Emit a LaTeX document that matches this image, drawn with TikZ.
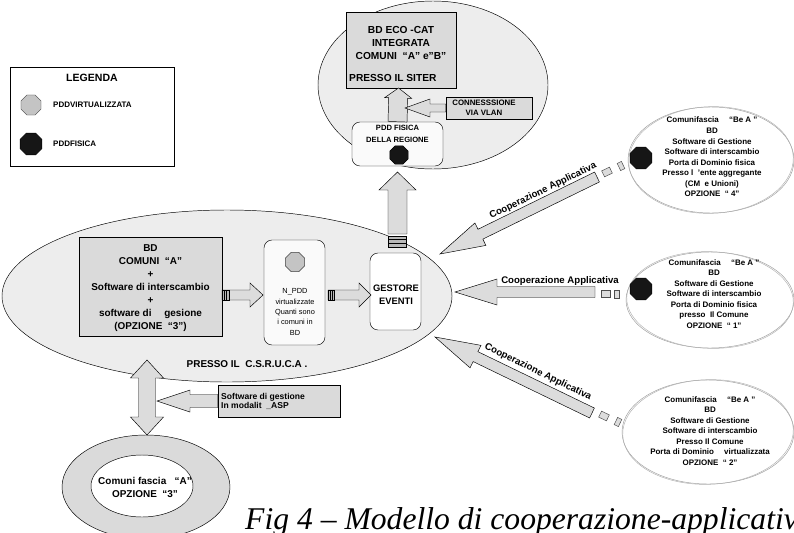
\documentclass[tikz,border=0pt]{standalone}
\usepackage{fontspec}
\setmainfont{Liberation Sans}
\newfontfamily\capfont{Liberation Serif}
\usepackage{tikz}
\usetikzlibrary{calc,positioning,shapes.geometric}

\definecolor{ellgray}{HTML}{EDEDED}
\definecolor{boxgray}{HTML}{DADADA}
\definecolor{arrgray}{HTML}{DCDCDC}
\definecolor{octgray}{HTML}{C4C4C4}
\definecolor{octblack}{HTML}{161616}

\def\pxu{0.03cm}
% block arrow: [style]{from}{to}{shaft half width}{head half width}{head length}
\newcommand{\blockarrow}[6][]{%
  \draw[barrow,#1] let \p1=($(#3)-(#2)$), \n1={atan2(\y1,\x1)}, \n2={veclen(\x1,\y1)} in
    ($(#2)+(\n1+90:#4*\pxu)$)
    -- ($(#2)+(\n1:\n2-#6*\pxu)+(\n1+90:#4*\pxu)$)
    -- ($(#2)+(\n1:\n2-#6*\pxu)+(\n1+90:#5*\pxu)$)
    -- (#3)
    -- ($(#2)+(\n1:\n2-#6*\pxu)+(\n1-90:#5*\pxu)$)
    -- ($(#2)+(\n1:\n2-#6*\pxu)+(\n1-90:#4*\pxu)$)
    -- ($(#2)+(\n1-90:#4*\pxu)$) -- cycle;}

\begin{document}
\begin{tikzpicture}[x=0.03cm,y=-0.03cm,
  box/.style={draw,fill=boxgray,inner sep=0pt},
  rbox/.style={draw,rounded corners=0.24cm,fill=gray!4,inner sep=0pt},
  ell/.style={ellipse,draw,fill=ellgray,inner sep=0pt},
  rell/.style={ellipse,draw=gray!75,fill=white,inner sep=0pt},
  oct/.style={regular polygon,regular polygon sides=8,inner sep=0pt,minimum size=0.66cm},
  octv/.style={oct,draw=gray!50!black,fill=octgray},
  octf/.style={oct,draw=black,fill=octblack,minimum size=0.71cm},
  barrow/.style={draw,fill=arrgray,line width=0.4pt},
  stripes/.style={draw,fill=gray!55,line width=0.4pt},
  squ/.style={draw=gray!60!black,fill=arrgray,inner sep=0pt},
  lab/.style={font=\bfseries\fontsize{8.5}{11.2}\selectfont,align=center,inner sep=0pt},
  small/.style={font=\bfseries\fontsize{6.8}{9}\selectfont,align=center,inner sep=0pt},
  coop/.style={font=\bfseries\fontsize{8.2}{9}\selectfont,inner sep=0pt}]
  \useasboundingbox (0,0) rectangle (794,532);

  % legenda
  \node[draw,fill=white,minimum width=4.92cm,minimum height=2.97cm] (leg) at (92,116.5) {};
  \node[lab,font=\bfseries\fontsize{9}{10}\selectfont] (legtitle) at (92,78) {LEGENDA};
  \node[octv,minimum size=0.65cm] (legv) at (31,105) {};
  \node[octf] (legf) at (31,144) {};
  \node[small,anchor=west] (legvlab) at (53,105) {PDDVIRTUALIZZATA};
  \node[small,anchor=west] (legflab) at (53,144) {PDDFISICA};

  % regione / siter
  \node[ell,minimum width=6.9cm,minimum height=5.04cm] (siter) at (433,85) {};
  \node[box,minimum width=3.3cm,minimum height=2.28cm] (eco) at (401,50) {};
  \node[lab,font=\bfseries\fontsize{8.7}{10.8}\selectfont] (ecotxt) at (401,43) {BD ECO -CAT\\INTEGRATA\\COMUNI ~“A” e”B”};
  \node[lab,font=\bfseries\fontsize{8.7}{10.8}\selectfont,anchor=west] (siterlab) at (349,78) {PRESSO IL SITER};
  \node[rbox,minimum width=2.73cm,minimum height=1.32cm] (pddfis) at (397.5,144) {};
  \node[small,font=\bfseries\fontsize{6.5}{10.5}\selectfont] (pddfistxt) at (397.5,134) {PDD FISICA\\DELLA REGIONE};
  \node[octf,minimum size=0.6cm] (pddfisoct) at (399,155) {};
  \node[box,minimum width=2.58cm,minimum height=0.66cm] (vlan) at (489,108) {};
  \node[small,font=\bfseries\fontsize{6.7}{8.5}\selectfont] (vlantxt) at (484,108) {CONNESSSIONE\\VIA VLAN};
  \coordinate (ecoin) at (398.5,88);
  \coordinate (vlantip) at (405,108);
  \blockarrow{pddfis.north}{ecoin}{9.5}{13.5}{10}
  \blockarrow{vlan.west}{vlantip}{4}{9}{25}

  % centro servizi
  \node[ell,minimum width=13.5cm,minimum height=5.16cm] (csr) at (227,296) {};
  \node[box,minimum width=4.29cm,minimum height=2.97cm] (bd) at (150.5,286.5) {};
  \node[lab] (bdtxt) at (150.5,288) {BD\\COMUNI ~“A”\\+\\Software di interscambio\\+\\software di \quad gesione\\(OPZIONE ~“3”)};
  \node[rbox,minimum width=1.83cm,minimum height=3.15cm] (npdd) at (294.5,292.5) {};
  \node[octv,minimum size=0.62cm] (npddoct) at (295,262) {};
  \node[font=\fontsize{6.3}{8.8}\selectfont,align=center,inner sep=0pt] (npddtxt) at (295,312) {N\_PDD\\virtualizzate\\Quanti sono\\i comuni in\\BD};
  \node[rbox,fill=white,minimum width=1.53cm,minimum height=2.31cm] (gest) at (395.5,291.5) {};
  \node[lab,font=\bfseries\fontsize{8}{11}\selectfont] (gesttxt) at (396,294.5) {GESTORE\\EVENTI};
  \node[lab] (csrlab) at (247,364) {PRESSO IL ~C.S.R.U.C.A .};

  \coordinate (bdout) at (222,295);
  \coordinate (npddin) at (263,295);
  \coordinate (npddout) at (328,295);
  \coordinate (gestin) at (371,295);
  \blockarrow{bdout}{npddin}{5}{12}{13}
  \draw[stripes] (222,290) rectangle (229,300);
  \draw (224.3,290) -- (224.3,300) (226.6,290) -- (226.6,300);
  \blockarrow{npddout}{gestin}{5}{12}{12}
  \draw[stripes] (328,290) rectangle (334,300);
  \draw (330,290) -- (330,300) (332,290) -- (332,300);

  \coordinate (gestout) at (397.5,234);
  \coordinate (pddfisin) at (397.5,172);
  \blockarrow{gestout}{pddfisin}{9.5}{18.5}{18}
  \draw[stripes] (388.5,236) rectangle (406.5,247);
  \draw (388.5,239.5) -- (406.5,239.5) (388.5,243) -- (406.5,243);

  % comuni fascia A
  \node[ellipse,draw,fill=boxgray,inner sep=0pt,minimum width=5.04cm,minimum height=3.12cm] (ring) at (146,487) {};
  \node[ellipse,draw,fill=white,inner sep=0pt,minimum width=3.06cm,minimum height=1.86cm] (ringin) at (142,486) {};
  \node[lab] (ringtxt) at (145,487.5) {Comuni fascia ~ “A”\\OPZIONE ~“3”};
  \coordinate (dtop) at (147,360);
  \coordinate (dbot) at (147,435);
  \draw[barrow] (dtop) -- ++(16.5,18) -- ++(-8,0) -- ++(0,39) -- ++(8,0) -- (dbot)
    -- ++(-16.5,-18) -- ++(8,0) -- ++(0,-39) -- ++(-8,0) -- cycle;
  \node[box,minimum width=3.66cm,minimum height=0.96cm] (asp) at (279,401) {};
  \node[font=\bfseries\fontsize{7.3}{7.9}\selectfont,align=left,anchor=west,inner sep=0pt] (asptxt) at (221,401.5) {Software di gestione\\In modalit \ \_ASP};
  \coordinate (asptip) at (157,401);
  \blockarrow{asp.west}{asptip}{6.5}{11}{33}

  % comuni fascia B e A
  \node[rell,minimum width=4.98cm,minimum height=3.18cm] (opz4) at (711,160) {};
  \draw[gray!60] (opz4.center) ellipse [x radius=2.47cm,y radius=1.6cm,rotate=2];
  \node[rell,minimum width=5.04cm,minimum height=2.88cm] (opz1) at (710,300) {};
  \draw[gray!60] (opz1.center) ellipse [x radius=2.5cm,y radius=1.45cm,rotate=-2];
  \node[rell,minimum width=5.16cm,minimum height=3.12cm] (opz2) at (708,432) {};
  \draw[gray!60] (opz2.center) ellipse [x radius=2.56cm,y radius=1.57cm,rotate=2];

  \node[small] (opz4txt) at (712,157) {Comunifascia \quad “Be A ”\\BD\\Software di Gestione\\Software di interscambio\\Porta di Dominio fisica\\Presso l \ 'ente aggregante\\(CM \ e Unioni)\\OPZIONE \ “ 4”};
  \node[small] (opz1txt) at (714,294) {Comunifascia \quad “Be A ”\\BD\\Software di Gestione\\Software di interscambio\\Porta di Dominio fisica\\presso \ Il Comune\\OPZIONE \ “ 1”};
  \node[small] (opz2txt) at (710,431) {Comunifascia \quad “Be A ”\\BD\\Software di Gestione\\Software di interscambio\\Presso Il Comune\\Porta di Dominio \quad virtualizzata\\OPZIONE \ “ 2”};
  \node[octf] (opz4oct) at (641,158) {};
  \node[octf] (opz1oct) at (641,289) {};

  % cooperazione applicativa
  \coordinate (opz4out) at (597,177);
  \coordinate (csrin4) at (440,254);
  \coordinate (opz1out) at (595,292);
  \coordinate (csrin1) at (455,292);
  \coordinate (opz2out) at (592,413);
  \coordinate (csrin2) at (435,337);
  \blockarrow{opz4out}{csrin4}{5.5}{12.5}{45}
  \blockarrow{opz1out}{csrin1}{5.5}{13}{42}
  \blockarrow{opz2out}{csrin2}{5.5}{12.5}{45}
  \node[squ,rotate=26,minimum width=0.26cm,minimum height=0.2cm] (sq4a) at (607,172) {};
  \node[squ,rotate=26,minimum width=0.14cm,minimum height=0.24cm] (sq4b) at (621,166) {};
  \node[squ,minimum width=0.26cm,minimum height=0.2cm] (sq1a) at (606,294) {};
  \node[squ,minimum width=0.16cm,minimum height=0.24cm] (sq1b) at (617,294) {};
  \node[squ,rotate=-26,minimum width=0.26cm,minimum height=0.2cm] (sq2a) at (604,416) {};
  \node[squ,rotate=-26,minimum width=0.14cm,minimum height=0.24cm] (sq2b) at (618,422) {};
  \node[coop,rotate=26] (coop4) at (543,191) {Cooperazione Applicativa};
  \node[coop] (coop1) at (560,281) {Cooperazione Applicativa};
  \node[coop,rotate=-26] (coop2) at (538,372) {Cooperazione Applicativa};

  % didascalia
  \node[anchor=base west,inner sep=0pt,font=\capfont\itshape\fontsize{27}{30}\selectfont] (caption) at (245,529) {Fig 4 – Modello di cooperazione-applicativa};
\end{tikzpicture}
\end{document}
